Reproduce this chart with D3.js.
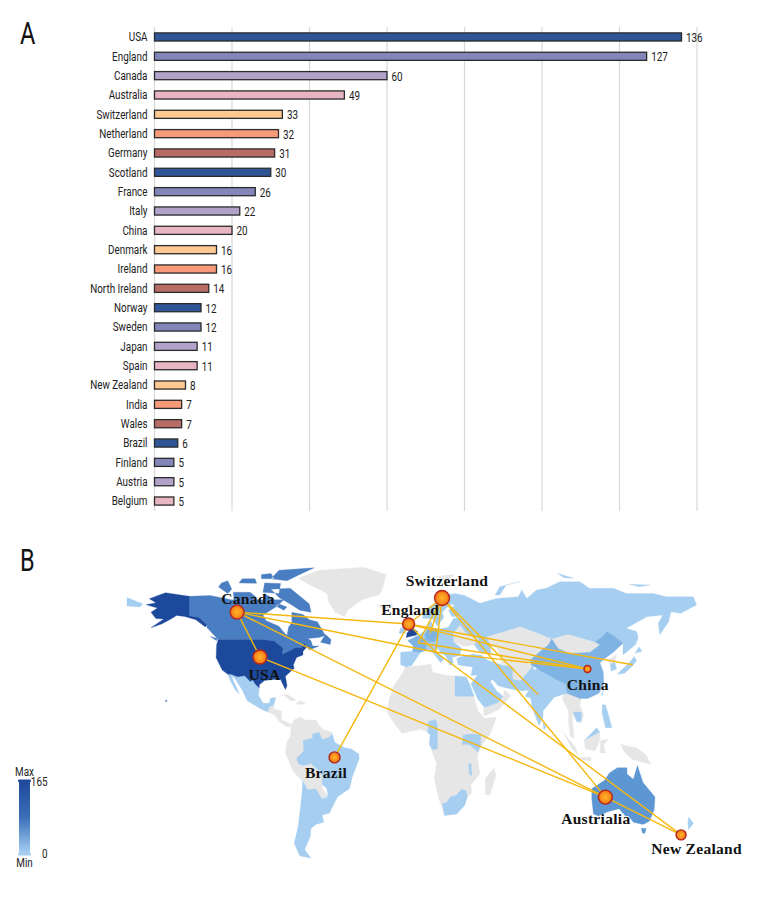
<!DOCTYPE html>
<html><head><meta charset="utf-8">
<script src="https://cdnjs.cloudflare.com/ajax/libs/d3/7.8.5/d3.min.js"></script>
<style>html,body{margin:0;padding:0;background:#fff}svg{display:block}</style></head>
<body><svg id="c" width="780" height="900"></svg>
<script>
const countries=["USA","England","Canada","Australia","Switzerland","Netherland","Germany","Scotland","France","Italy","China","Denmark","Ireland","North Ireland","Norway","Sweden","Japan","Spain","New Zealand","India","Wales","Brazil","Finland","Austria","Belgium"];
const counts=[136,127,60,49,33,32,31,30,26,22,20,16,16,14,12,12,11,11,8,7,7,6,5,5,5];
const barPalette=["#2f5597","#8286b9","#b2a2c9","#e8b5c2","#fdc992","#f69a7a","#b96b65"];
const gridTicks=[0,20,40,60,80,100,120,140];

// map shapes: [lon,lat] rings
const landGray=[
[[-73,78.2],[-60,82],[-32,83.5],[-18,80],[-20,74],[-22,70.5],[-33,68],[-42,63],[-44,60],[-50,62],[-54,67],[-55,71],[-68,76]],
[[-92,14.5],[-91,17],[-88.2,18],[-88,16],[-83.3,15],[-83.5,10.8],[-79.5,9.5],[-77.4,8.6],[-78,7.5],[-80.5,7.5],[-85,10],[-87.5,13]],
[[-85,22],[-80,23],[-74.2,20.2],[-77.7,19.9],[-82,22.4]],
[[-74.4,18.5],[-72,20],[-68.4,18.6],[-71,18]],
[[-77.4,8.6],[-75.5,10.8],[-72,12],[-68,10.6],[-62,10.7],[-60,8.5],[-57,6],[-52,5],[-51.7,4],[-54,2.3],[-58,1.5],[-60,5],[-60,-13.5],[-58,-16],[-58,-22],[-54.5,-25.5],[-58,-27],[-62,-22],[-67,-22.5],[-70.3,-18.3],[-76,-14],[-81,-5],[-80,0],[-78,3],[-77.5,7]],
[[-6,35.8],[10,37.3],[11,33.5],[20,32],[25,31.7],[32,31.2],[34,28],[37,21],[39.5,15],[43.2,11.6],[51,12],[47,4],[40,-3],[39,-7],[40.5,-15],[35,-20],[35.5,-24],[32.7,-26],[31,-30],[26,-34],[18.5,-34.8],[15,-27],[12,-17],[13.5,-10],[9,-1],[9.5,4],[4,6.3],[-8,4.4],[-13,9],[-17.5,14.7],[-16,21],[-13,27.5],[-9.5,31]],
[[49.5,-12],[50.5,-16],[47,-25],[44,-25],[44,-17]],
[[24,52],[28,56],[32,52],[40,49.5],[37,46.5],[33,46],[30,46],[24,48]],
[[19.5,41],[23,40.5],[28,41.5],[28,44],[22,44],[19,45]],
[[85.4,49.4],[95.8,51.5],[112.5,47.9],[115.6,46.5],[109.4,43],[96.9,42.4],[89.6,44.7]],
[[44.8,50.4],[58.3,53.5],[65.6,55.2],[77,52],[85.4,49.4],[83.3,46.4],[79.2,44],[72,39.3],[70,37],[61,36],[54,37.5],[53,42],[51,45],[47,46]],
[[61,36],[70,37.5],[74,37],[70,33],[66,29.5],[61,30]],
[[43,17],[45,17],[52,19],[55,22],[56,25],[60,22.5],[53,16],[45,13],[43,12.7]],
[[92,21],[94,24],[98,24],[100,22],[104,21],[103,18],[105.5,13],[103,9],[100.5,11],[98,13.5],[99.5,2],[97,3],[96,9],[96,15],[94.5,17]],
[[92.5,5],[100,-2],[102,-6],[98,-3]],
[[105.5,1.5],[110.5,3],[115.5,5],[115.5,1],[112.5,-4],[106.5,-3]],
[[101,-7],[110,-7],[110,-8.8],[102,-8]],
[[115.5,-5],[116,1],[121,1.5],[118,-1],[119,-5]],
[[128.5,-1],[138.5,-2.5],[144.5,-6],[147.5,-10.5],[140.5,-9],[135.5,-8],[130.5,-4]],
[[120.5,39],[124,41],[126,42],[125,38],[122,37.5]],
[[-24,65.5],[-14,66],[-14,64.5],[-20,63.4]],
[[12,79],[25,80],[20,77]]
];
const landLight=[
[[-117,32.5],[-114.8,32.5],[-111,31.3],[-106.5,31.8],[-103,29],[-101.5,29.8],[-99.5,27.5],[-97.3,26],[-97.8,22.5],[-95,18.7],[-91,18.7],[-90.5,21],[-87,21.5],[-88.2,18],[-91,17],[-92,14.5],[-96,15.8],[-105,20],[-108,25],[-113,31],[-114.7,31.5],[-112,27],[-109.8,23],[-112.3,25],[-115.5,29.5]],
[[-51.7,4],[-54,2.3],[-58,1.5],[-60,5],[-64,4],[-64,2],[-67,1.5],[-70,1],[-69.5,-4],[-74,-7.5],[-73,-10],[-70,-11],[-65,-10],[-60,-13.5],[-58,-16],[-58,-20],[-55,-22],[-54.5,-25.5],[-57.7,-30.2],[-53.5,-33.7],[-48.5,-26],[-41,-22],[-39,-16],[-35,-8],[-35,-5.5],[-40,-3],[-44,-2.5],[-50,0]],
[[-70.3,-18.3],[-67,-22.5],[-62,-22],[-58,-27],[-54.5,-25.7],[-57.7,-30.2],[-53.5,-33.7],[-58,-34.5],[-57,-38],[-62,-39],[-65,-41],[-65.5,-45],[-69,-51],[-65,-55],[-72,-54],[-75.5,-48],[-73,-40],[-71.5,-30],[-70.5,-23]],
[[17,-29],[20,-28.5],[22,-26],[26,-25],[29,-22.3],[32,-23],[32.7,-26],[31,-30],[26,-34],[18.5,-34.8]],
[[25,31.7],[32,31.2],[34,28],[37,22],[25,22]],
[[35,28],[39,32],[47,29],[48,28],[51,24.5],[55,22],[52,19],[45,17],[43,17],[39,21]],
[[8,4.5],[8.5,10],[13,11],[14,8],[14,-3],[11,-3.5],[9,-1],[9.5,4]],
[[29.5,-1],[30,3.5],[34,4],[41,3.8],[41,-1.5],[39.5,-4.5],[34,-1]],
[[33.5,-10],[35,-10],[35.5,-16],[34,-15]],
[[-9,43],[-1.5,43.5],[-1,46],[-4.5,48.5],[2,51],[4,52],[8,54],[8.5,57],[10.5,57.5],[10.5,54.5],[14,54],[19,54.5],[21,55],[24,59],[28,59.5],[28,56],[24,52],[24,48],[29,45],[28,41.5],[23,40.5],[24,38],[22,36.5],[19.5,41],[16,43],[13.5,45.5],[12.5,44],[18.3,40],[16,38],[12,42],[9,44.3],[3.5,43],[0,39],[-2,36.7],[-5.5,36],[-9,37]],
[[5,59],[5,62],[12,66],[18,70],[25,71],[31,70],[29,66],[31,62],[28,60],[23,60],[21,63],[25,65.5],[22,65.8],[17,62],[18,59.5],[14,55.5],[11,59]],
[[-10,52],[-6,52],[-6,55],[-9,54.5]],
[[28,59.5],[31,62],[29,66],[31,70],[40.6,66.3],[51,68.6],[64.6,69.4],[66.7,72.6],[69.8,68.6],[76,72.6],[82,73.4],[90.6,76.6],[103,76.6],[109,73.4],[124,73.4],[132,71],[149,71],[157,69.4],[174,69.4],[176,65.5],[166,61.5],[160,62.3],[158.5,57.5],[153,51.3],[152,56.8],[155,60.7],[145,59.9],[132,54.4],[138.5,52.8],[137.5,46.4],[130,41.7],[130,47.3],[124,51],[120,52.8],[117,50.5],[112.5,47.9],[95.8,51.5],[85.4,49.4],[77,52],[65.6,55.2],[58.3,53.5],[44.8,50.4],[47,46],[47.5,42],[40,43.5],[37,46.5],[40,49.5],[32,52],[28,56]],
[[-180,69],[-170,66],[-172,64.5],[-180,65]],
[[50,70.2],[53,74.2],[65.6,76.6],[57,75],[53,70.2]],
[[89,80.6],[99,78.2],[93,78.5]],
[[134,75.3],[147,75],[140,74.2]],
[[26,40],[29,41],[36,42],[41.5,41.5],[44.5,39.5],[44.5,37],[36,36],[30,36.5],[27,37]],
[[36,36],[44.5,37],[44.5,39.5],[48,38.5],[54,37],[61,36],[61,31],[62,25.2],[57,26],[52,27],[48.5,30],[47,29],[39,32],[35,32]],
[[61,30],[66,29.5],[70,33],[74,37],[74,34.5],[74,30],[71,25],[67,24.5],[62,25.2]],
[[74,34.5],[78,35.5],[80,33.5],[90.6,29],[94,28],[95,23.5],[91,22.5],[87,21.5],[80,15],[80,12],[77.5,8],[73,17],[72.5,21],[69,22],[71,25],[74,30]],
[[80,9.5],[82,7.5],[80.5,6]],
[[99,14.5],[104,14.5],[104,10],[101,10]],
[[106.5,1.5],[113.5,7],[115.5,5],[110.5,3]],
[[117,18],[119,18],[121,13],[123,7],[119,7],[117,14]],
[[116.5,23],[118,25],[117,22]],
[[122,37.5],[125,38],[126,35],[122.5,34]],
[[126.5,32.5],[131,33],[136,36.5],[138.5,39],[137,41],[134,38],[129,34.5]],
[[137.5,42.5],[142,43.5],[140,45.5]],
[[138,46.5],[139.5,50],[138.5,53],[138,50]],
[[171,-35.5],[174,-38.5],[171,-41.5],[170.5,-38]]
];
const landChina=[
[[72,39.3],[79.2,44],[83.3,46.4],[85.4,49.4],[89.6,44.7],[96.9,42.4],[109.4,43],[115.6,46.5],[112.5,47.9],[117,50.5],[120,52.8],[124,51],[130,47.3],[124,43],[118.7,40],[115.6,38],[117.7,33.6],[118,28],[115,23.5],[108,21],[103,21],[95,23.5],[94,28],[90.6,29],[80,33.5],[72.5,37]]
];
const landAustralia=[
[[110.5,-22],[118.5,-18],[121.5,-14.5],[126.5,-12],[132.5,-12],[132.5,-15],[136.5,-17.5],[139,-11],[142.5,-19],[150,-26],[149.5,-32],[146.5,-37.5],[142.5,-39],[136.5,-38],[133.5,-35],[131.5,-35],[127.5,-31.5],[120.5,-33],[114.5,-35],[111.5,-34],[110.5,-27]],
[[141.5,-40.8],[144.5,-41],[143.5,-43.5],[142,-42.8]]
];
const landCanada=[
[[-141,69.6],[-128,70],[-115,68],[-108,68],[-95,68],[-94,71],[-88,68],[-82,68],[-86,65],[-95,60.7],[-93,58],[-85,55.3],[-82,52.5],[-80,51],[-79,55],[-77,57],[-77,62],[-70,61],[-66,58.5],[-61,57.5],[-56,51],[-60,50],[-67,49.5],[-65,48.5],[-64,46],[-60,46],[-66,44],[-67.5,45.5],[-69,47.3],[-71,45],[-75,45],[-79,43.5],[-83,42],[-82.5,45],[-88,48.3],[-95,49],[-123,49],[-130,54.7],[-130,56],[-135,59.5],[-141,60.3]],
[[-90,73],[-78,73.5],[-66,66],[-65,62],[-72,63],[-78,66],[-85,69]],
[[-113.6,71.6],[-103,71.5],[-99,69],[-104,66.5],[-113,67.5]],
[[-122.8,74],[-117,71],[-114.5,73],[-117,77],[-121,76]],
[[-90,78],[-85,82],[-63,83.2],[-72,80],[-80,77]],
[[-59,47.7],[-53,46.7],[-52.5,49],[-56,51.5]],
[[-110,76],[-99,75.8],[-100,78],[-108,78]],
[[-96,78],[-88,78],[-90,80.5],[-96,80]],
[[-95,71.5],[-85,71],[-84,75.7],[-94,76]],
[[-128,50.5],[-124,48.5],[-123.5,49.5]],
[[-87,65],[-82,63],[-80,64.5],[-85,66]]
];
const landDark=[
[[-141,69.6],[-156,71.3],[-166,68.5],[-162,66.5],[-168,65.6],[-161,64],[-165,62],[-162,59],[-157,58.8],[-165,54.7],[-158,56.5],[-152,59],[-149,60.5],[-144,60],[-137,58.5],[-131,55],[-130,56],[-135,59.5],[-141,60.3]],
[[-123,49],[-95,49],[-88,48.3],[-82.5,45],[-83,42],[-79,43.5],[-75,45],[-71,45],[-69,47.3],[-67.5,45.5],[-70,43.5],[-70,41.7],[-74,40.5],[-76,37],[-75.5,35.3],[-81,31.5],[-80,27],[-81,25.2],[-82.8,28],[-84,30],[-89,30],[-94,29.5],[-97.3,27.5],[-97.3,26],[-99.5,27.5],[-101.5,29.8],[-103,29],[-106.5,31.8],[-111,31.3],[-114.8,32.5],[-117,32.5],[-120.5,34.5],[-124.3,40.3],[-124,46.5]],
[[-155.9,19.5],[-155,19.6],[-155.6,20.3]],
[[-5.5,50],[1,51.2],[1.7,52.7],[-0.5,54],[-2,56],[-2,57.7],[-5,58.6],[-6,56.5],[-3,54],[-5,52]]
];
const landFrance=[[[-1,46],[-4.5,48.5],[2,51],[7,49],[7,44],[3.5,43],[-1.5,43.5]],[[6,51],[8,54],[14,54],[15,51],[12,48],[8,48]]];

const nodeNames=["USA","Canada","England","Switzerland","China","Brazil","Austrialia","New Zealand"];
const nodeLon=[-96.9,-111.2,-4,16.9,107.8,-50.3,119,166.3];
const nodeLat=[40.7,62.1,56.4,68.8,35,-7.1,-26,-44];
const nodeSize=[7,7,6,7.5,3.5,5.5,7,5];
const labelLon=[-94.1,-104.4,-3,20,108,-55.6,113,176];
const labelLat=[29.8,66,60.7,74.5,25,-16.8,-38.8,-53];
const otherPlaces={Japan:[136,37],India:[77,22.8],Italy:[13,43],France:[2,47.5],Germany:[9.4,52]};
const links=[["Canada","USA"],["Canada","England"],["Canada","Italy"],["Canada","Austrialia"],["USA","Austrialia"],["Brazil","England"],["England","China"],["England","Japan"],["England","Italy"],["Italy","China"],["France","China"],["Switzerland","India"],["Switzerland","Austrialia"],["Switzerland","Italy"],["Switzerland","Germany"],["Switzerland","France"],["Switzerland","England"],["Italy","New Zealand"],["Austrialia","New Zealand"]];
const legendLabels=["Max","165","Min","0"];

const FONT='Roboto,"Liberation Sans",sans-serif';
const svg=d3.select("#c");
const narrow=(sel,fx,fy)=>sel.attr("transform",(d,i)=>`translate(${fx(d,i)},${fy(d,i)}) scale(.76,1)`).attr("font-family",FONT);
narrow(svg.selectAll("text.p").data(["A","B"]).join("text").attr("class","p").text(d=>d),(d,i)=>20,(d,i)=>[44,571][i]).attr("font-size",31).attr("fill","#111");

// Panel A
const x=d3.scaleLinear().domain([0,140]).range([154.5,697]);
const y=d3.scaleBand().domain(countries).range([27.3,510.7]).paddingInner(0.58).paddingOuter(0.29);
const A=svg.append("g");
A.selectAll("line.g").data(gridTicks).join("line").attr("x1",d=>x(d)).attr("x2",d=>x(d)).attr("y1",27).attr("y2",511).attr("stroke","#d8d8d8").attr("stroke-width",1.2);
A.selectAll("rect").data(countries).join("rect").attr("x",x(0)).attr("y",d=>y(d)).attr("height",y.bandwidth()).attr("width",(d,i)=>x(counts[i])-x(0)).attr("fill",(d,i)=>barPalette[i%7]).attr("stroke","#2b2b2b").attr("stroke-width",1.3);
narrow(A.selectAll("text.c").data(countries).join("text").attr("class","c").text(d=>d).attr("text-anchor","end"),d=>147.5,d=>y(d)+y.bandwidth()/2+4.3).attr("font-size",13).attr("fill","#222");
narrow(A.selectAll("text.v").data(counts).join("text").attr("class","v").text(d=>d),d=>x(d)+4.5,(d,i)=>y(countries[i])+y.bandwidth()/2+5).attr("font-size",13).attr("fill","#222");

// Panel B
const lonS=d3.scaleLinear().domain([-180,180]).range([127,703]);
const latS=d3.scaleLinear().domain([90,-90]).range([553.5,931.5]);
const path=d3.geoPath(d3.geoTransform({point(a,b){this.stream.point(lonS(a),latS(b));}}));
const defs=svg.append("defs");
defs.append("filter").attr("id","soft").append("feGaussianBlur").attr("stdDeviation",.55);
const M=svg.append("g");
const Land=M.append("g").attr("filter","url(#soft)");
const geo=rings=>({type:"MultiPolygon",coordinates:rings.map(r=>[[...r,r[0]]])});
[[landGray,"#e6e6e6"],[landLight,"#a5cef1"],[landChina,"#7fb3e4"],[landAustralia,"#5c97d4"],[landCanada,"#4a7fc2"],[landFrance,"#7fb3e4"],[landDark,"#1f4a9c"]].forEach(([r,c])=>{
  Land.append("path").attr("d",path(geo(r))).attr("fill",c).attr("stroke",c).attr("stroke-width",.3);
});
const lg=defs.append("linearGradient").attr("id","leg").attr("x1",0).attr("x2",0).attr("y1",0).attr("y2",1);
[[0,"#1f4a9c"],[.5,"#3a70b8"],[1,"#a5cef1"]].forEach(s=>lg.append("stop").attr("offset",s[0]).attr("stop-color",s[1]));
const rg=defs.append("radialGradient").attr("id","node");
[[0,"#ffb52a"],[.7,"#f88a1c"],[1,"#ef6a14"]].forEach(s=>rg.append("stop").attr("offset",s[0]).attr("stop-color",s[1]));

const place=n=>{const i=nodeNames.indexOf(n);return i>=0?[nodeLon[i],nodeLat[i]]:otherPlaces[n];};
M.selectAll("line.l").data(links).join("line").attr("x1",d=>lonS(place(d[0])[0])).attr("y1",d=>latS(place(d[0])[1])).attr("x2",d=>lonS(place(d[1])[0])).attr("y2",d=>latS(place(d[1])[1])).attr("stroke","#f5b80f").attr("stroke-width",1.4);
M.selectAll("circle").data(nodeNames).join("circle").attr("cx",(d,i)=>lonS(nodeLon[i])).attr("cy",(d,i)=>latS(nodeLat[i])).attr("r",(d,i)=>nodeSize[i]).attr("fill","url(#node)").attr("stroke","#b3261e").attr("stroke-width",1.4);
M.selectAll("text").data(nodeNames).join("text").text(d=>d).attr("x",(d,i)=>lonS(labelLon[i])).attr("y",(d,i)=>latS(labelLat[i])).attr("text-anchor","middle").attr("font-family",'"Liberation Serif",serif').attr("font-weight","bold").attr("font-size",15.5).attr("letter-spacing",.3).attr("fill","#111");

// Legend
const L=svg.append("g");
L.append("rect").attr("x",19).attr("y",782).attr("width",11).attr("height",71).attr("fill","url(#leg)");
L.append("rect").attr("x",18).attr("y",779.5).attr("width",13).attr("height",2.5).attr("rx",1).attr("fill","#1f4a9c");
L.append("rect").attr("x",18).attr("y",853).attr("width",13).attr("height",2.5).attr("rx",1).attr("fill","#a5cef1");
const legX=[24.5,47.5,24.5,47.5],legY=[776,786,867,858],legA=["middle","end","middle","end"];
narrow(L.selectAll("text").data(legendLabels).join("text").text(d=>d).attr("text-anchor",(d,i)=>legA[i]),(d,i)=>legX[i],(d,i)=>legY[i]).attr("font-size",13).attr("fill","#222");
</script></body></html>
